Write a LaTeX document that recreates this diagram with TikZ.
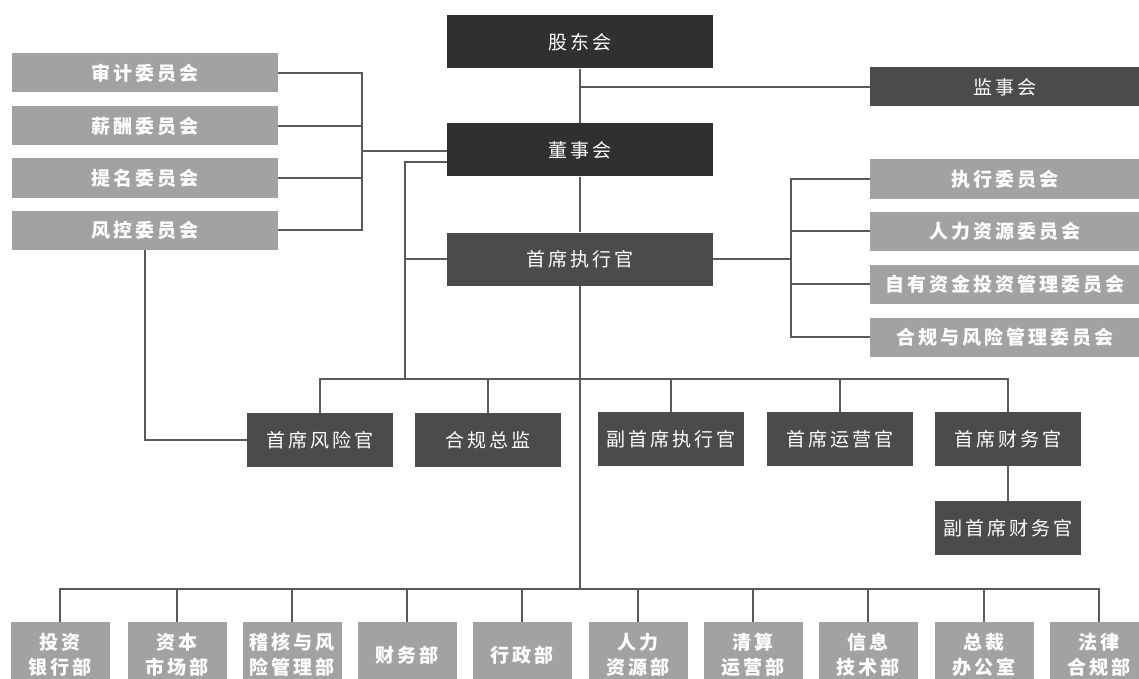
\documentclass[tikz,border=0pt]{standalone}
\usepackage{fontspec}
\newfontfamily\cjk[LetterSpace=16]{Noto Sans CJK SC}
\usepackage{xcolor}
\usepackage{tikz}
\usetikzlibrary{calc,positioning}

\definecolor{boardgray}{HTML}{303030}
\definecolor{officegray}{HTML}{4B4B4B}
\definecolor{committeegray}{HTML}{A2A2A2}
\definecolor{linkgray}{HTML}{5A5A5A}

\begin{document}
\begin{tikzpicture}[
    x=1pt,
    y=-1pt,
    orgbox/.style={
        inner sep=0pt,
        text=white,
        align=center,
        font=\cjk\fontsize{19}{25}\selectfont
    },
    boardbox/.style={
        orgbox,
        fill=boardgray,
        minimum width=266pt,
        minimum height=53pt
    },
    officebox/.style={
        orgbox,
        fill=officegray,
        minimum width=146pt,
        minimum height=54pt
    },
    committeebox/.style={
        orgbox,
        fill=committeegray,
        font=\cjk\bfseries\fontsize{19}{25}\selectfont,
        minimum width=266pt,
        minimum height=39pt
    },
    deptbox/.style={
        orgbox,
        fill=committeegray,
        font=\cjk\bfseries\fontsize{19}{25}\selectfont,
        minimum width=99pt,
        minimum height=66pt
    },
    orgline/.style={
        draw=linkgray,
        line width=1.3pt
    }
]

\fill[white] (0,0) rectangle (1139,679);
\useasboundingbox (0,0) rectangle (1139,679);

% Top of the tree
\node[boardbox] (gdh) at (580,42) {股东会};
\node[boardbox,fill=officegray,minimum width=270pt,minimum height=39pt]
    (jsh) at (1005,87) {监事会};
\node[boardbox] (dsh) at (580,150) {董事会};
\node[boardbox,fill=officegray] (ceo) at (580,259) {首席执行官};

% Board committees
\node[committeebox] (sjwyh) at (145,73) {审计委员会};
\node[committeebox] (xcwyh) at (145,126) {薪酬委员会};
\node[committeebox] (tmwyh) at (145,178) {提名委员会};
\node[committeebox] (fkwyh) at (145,230) {风控委员会};

% Management committees
\node[committeebox,minimum width=270pt] (zxwyh) at (1005,179) {执行委员会};
\node[committeebox,minimum width=270pt] (rlwyh) at (1005,231) {人力资源委员会};
\node[committeebox,minimum width=270pt] (zywyh) at (1005,284) {自有资金投资管理委员会};
\node[committeebox,minimum width=270pt] (hgwyh) at (1005,337) {合规与风险管理委员会};

% Officers
\node[officebox] (cro) at (320,440) {首席风险官};
\node[officebox] (hgzj) at (488,440) {合规总监};
\node[officebox] (fceo) at (671,439) {副首席执行官};
\node[officebox] (coo) at (840,439) {首席运营官};
\node[officebox] (cfo) at (1008,439) {首席财务官};
\node[officebox] (fcfo) at (1008,528) {副首席财务官};

% Departments
\node[deptbox] (tyb) at (60,655) {投资\\银行部};
\node[deptbox] (zbb) at (177,655) {资本\\市场部};
\node[deptbox] (jhb) at (292,655) {稽核与风\\险管理部};
\node[deptbox] (cwb) at (407,655) {财务部};
\node[deptbox] (xzb) at (522,655) {行政部};
\node[deptbox] (rlb) at (638,655) {人力\\资源部};
\node[deptbox] (qsb) at (753,655) {清算\\运营部};
\node[deptbox] (xxb) at (868,655) {信息\\技术部};
\node[deptbox] (zcb) at (984,655) {总裁\\办公室};
\node[deptbox] (flb) at (1099,655) {法律\\合规部};

% Junctions
\coordinate (leftjoin) at (362,151);
\coordinate (boardtap) at ([yshift=-12pt]dsh.west);
\coordinate (riskjoin) at (405,162);
\coordinate (rightjoin) at (791,259);
\coordinate (officebar) at (580,379);
\coordinate (deptbar) at (580,589);

% Trunk
\draw[orgline] (gdh.south) -- (dsh.north);
\draw[orgline] (dsh.south) -- (ceo.north);
\draw[orgline] (ceo.south) -- (deptbar);
\draw[orgline] (gdh.south |- jsh.west) -- (jsh.west);

% Board committees to board
\draw[orgline] (sjwyh.east) -| (leftjoin);
\draw[orgline] (xcwyh.east) -- (xcwyh.east -| leftjoin);
\draw[orgline] (tmwyh.east) -- (tmwyh.east -| leftjoin);
\draw[orgline] (fkwyh.east) -| (leftjoin);
\draw[orgline] (leftjoin) -- (leftjoin -| dsh.west);

% Board to risk and compliance line
\draw[orgline] (boardtap) -- (riskjoin) -- (riskjoin |- officebar);
\draw[orgline] (ceo.west) -- (ceo.west -| riskjoin);
\draw[orgline] (fkwyh.south) |- (cro.west);

% Officers
\draw[orgline] (cro.north) |- (officebar) -| (cfo.north);
\draw[orgline] (hgzj.north) -- (hgzj.north |- officebar);
\draw[orgline] (fceo.north) -- (fceo.north |- officebar);
\draw[orgline] (coo.north) -- (coo.north |- officebar);
\draw[orgline] (cfo.south) -- (fcfo.north);

% Management committees to CEO
\draw[orgline] (ceo.east) -- (rightjoin);
\draw[orgline] (zxwyh.west) -| (rightjoin);
\draw[orgline] (rlwyh.west) -- (rlwyh.west -| rightjoin);
\draw[orgline] (zywyh.west) -- (zywyh.west -| rightjoin);
\draw[orgline] (hgwyh.west) -| (rightjoin);

% Departments
\draw[orgline] (tyb.north) |- (deptbar) -| (flb.north);
\draw[orgline] (zbb.north) -- (zbb.north |- deptbar);
\draw[orgline] (jhb.north) -- (jhb.north |- deptbar);
\draw[orgline] (cwb.north) -- (cwb.north |- deptbar);
\draw[orgline] (xzb.north) -- (xzb.north |- deptbar);
\draw[orgline] (rlb.north) -- (rlb.north |- deptbar);
\draw[orgline] (qsb.north) -- (qsb.north |- deptbar);
\draw[orgline] (xxb.north) -- (xxb.north |- deptbar);
\draw[orgline] (zcb.north) -- (zcb.north |- deptbar);

\end{tikzpicture}
\end{document}
